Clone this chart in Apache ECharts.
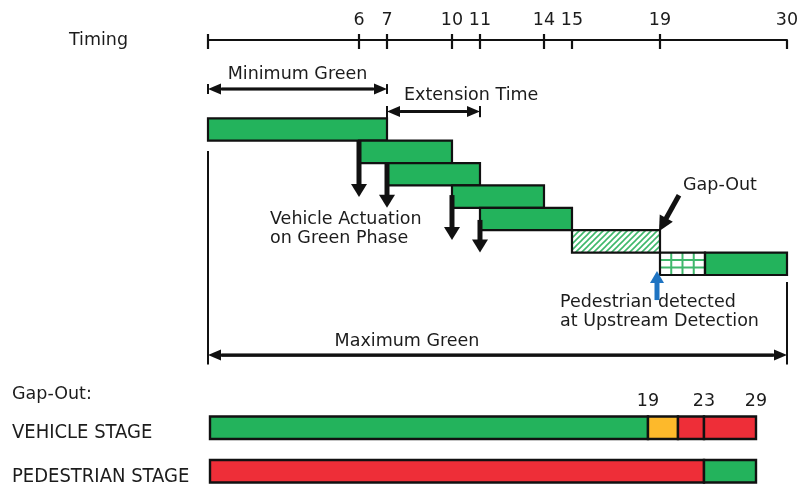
<!DOCTYPE html>
<html><head><meta charset="utf-8">
<script src="https://cdn.jsdelivr.net/npm/echarts@6.0.0/dist/echarts.min.js"></script>
<style>html,body{margin:0;padding:0;background:#fff}#chart{width:802px;height:484px}</style>
</head><body><div id="chart"></div>
<script>
// ================= DATA =================
const timingTicks = [0, 6, 7, 10, 11, 14, 15, 19, 30];
const timingLabels = [6, 7, 10, 11, 14, 15, 19, 30];
const crossingTicks = [0, 6, 7, 10, 11, 14, 19];

const greenStart = [0, 6, 7, 10, 11];
const greenEnd = [7, 10, 11, 14, 15];
const extensionGapStart = [15];   // hatched (no actuation)
const extensionGapEnd = [19];
const pedCallStart = [19];        // checkered
const pedCallEnd = [23];
const pedGreenStart = [23];
const pedGreenEnd = [30];

const actuationTimes = [6, 7, 10, 11];
const minimumGreen = [0, 7];
const extensionTime = [7, 11];
const maximumGreen = [0, 30];
const gapOutTime = 19;
const pedDetectTime = 19;

const stages = ['VEHICLE STAGE', 'PEDESTRIAN STAGE'];
const vehicleStart = [0, 19, 21, 23];
const vehicleEnd = [19, 21, 23, 29];
const vehicleSignal = ['green', 'yellow', 'red', 'red'];
const pedStart = [0, 23];
const pedEnd = [23, 29];
const pedSignal = ['red', 'green'];
const stageTickLabels = [19, 23, 29];

// ================= STYLE / LAYOUT =================
const FONT = '"DejaVu Sans", sans-serif';
const TXT = '#1c1c1c';
const INK = '#111';
const COLORS = { green: '#23b35c', yellow: '#fdb92b', red: '#ee2e38', blue: '#1f74c2', hatch: '#3fb86c' };

// schematic (not-to-scale) axes: compress with invisible breaks
const topBreaks = [
  { start: 1, end: 5, gap: 3.393 },
  { start: 7.5, end: 9.5, gap: 1.321 },
  { start: 11.5, end: 13.5, gap: 1.286 },
  { start: 15.5, end: 18.5, gap: 2.143 },
  { start: 19.5, end: 22.5, gap: 0.607 },
  { start: 23.5, end: 29.5, gap: 1.929 }
];
const bottomBreaks = [
  { start: 19.4, end: 20.6, gap: 0.5015 },
  { start: 21.3, end: 22.7, gap: 0.528 },
  { start: 23.5, end: 28.5, gap: 1.256 }
];

// cascade rows
const cascade = [];
greenStart.forEach((s, i) => cascade.push({ s, e: greenEnd[i], row: i, kind: 'green' }));
cascade.push({ s: extensionGapStart[0], e: extensionGapEnd[0], row: 5, kind: 'hatch' });
cascade.push({ s: pedCallStart[0], e: pedCallEnd[0], row: 6, kind: 'check' });
cascade.push({ s: pedGreenStart[0], e: pedGreenEnd[0], row: 6, kind: 'green' });

const stageSegs = [];
vehicleStart.forEach((s, i) => stageSegs.push({ s, e: vehicleEnd[i], cat: 0, sig: vehicleSignal[i] }));
pedStart.forEach((s, i) => stageSegs.push({ s, e: pedEnd[i], cat: 1, sig: pedSignal[i] }));

function makeHatch() {
  const c = document.createElement('canvas');
  c.width = 6; c.height = 6;
  const g = c.getContext('2d');
  g.strokeStyle = COLORS.hatch; g.lineWidth = 1.6;
  g.beginPath();
  g.moveTo(-1, 7); g.lineTo(7, -1);
  g.moveTo(-1, 1); g.lineTo(1, -1);
  g.moveTo(5, 7); g.lineTo(7, 5);
  g.stroke();
  return c;
}
const hatchImg = makeHatch();

// annotations anchored on data coordinates [time, row]
const annotations = [
  { type: 'dim', t0: minimumGreen[0], t1: minimumGreen[1], r: -1.31, bars: [[-0.22, 0.22], [-0.22, 0.22]] },
  { type: 'text', t: minimumGreen[0], t1: minimumGreen[1], r: -1.98, text: 'Minimum Green', align: 'center' },
  { type: 'dim', t0: extensionTime[0], t1: extensionTime[1], r: -0.30, bars: [[-0.25, 0.3], [-0.25, 0.25]] },
  { type: 'text', t: extensionTime[0], dx: 17, r: -1.04, text: 'Extension Time', align: 'left' },
  { type: 'dim', t0: maximumGreen[0], t1: maximumGreen[1], r: 10.58, bars: [[-9.12, 0.42], [-3.27, 0.42]] },
  { type: 'text', t: 7, dx: 20, r: 9.95, text: 'Maximum Green', align: 'center' },
  { type: 'down', t: actuationTimes[0], r0: 1.0, r1: 3.52 },
  { type: 'down', t: actuationTimes[1], r0: 2.0, r1: 4.0 },
  { type: 'down', t: actuationTimes[2], r0: 3.43, r1: 5.44 },
  { type: 'down', t: actuationTimes[3], r0: 4.54, r1: 6.0 },
  { type: 'text', t: 0, dx: 62, r: 4.51, text: 'Vehicle Actuation', align: 'left' },
  { type: 'text', t: 0, dx: 62, r: 5.36, text: 'on Green Phase', align: 'left' },
  { type: 'gap', t: gapOutTime, r: 5.0 },
  { type: 'text', t: gapOutTime, dx: 23, r: 2.98, text: 'Gap-Out', align: 'left' },
  { type: 'up', t: pedDetectTime, r0: 8.12, r1: 6.82 },
  { type: 'text', t: pedDetectTime, dx: -100, r: 8.24, text: 'Pedestrian detected', align: 'left' },
  { type: 'text', t: pedDetectTime, dx: -100, r: 9.09, text: 'at Upstream Detection', align: 'left' }
];

function arrowShape(x1, y1, x2, y2, w, headLen, headW, color) {
  const dx = x2 - x1, dy = y2 - y1, L = Math.hypot(dx, dy);
  const ux = dx / L, uy = dy / L, nx = -uy, ny = ux;
  const bx = x2 - ux * headLen, by = y2 - uy * headLen;
  return [
    { type: 'line', shape: { x1, y1, x2: bx + ux, y2: by + uy }, style: { stroke: color, lineWidth: w } },
    { type: 'polygon', shape: { points: [[x2, y2], [bx + nx * headW / 2, by + ny * headW / 2], [bx - nx * headW / 2, by - ny * headW / 2]] }, style: { fill: color } }
  ];
}
function textEl(x, y, text, align) {
  return { type: 'text', x, y, style: { text, font: '17.5px ' + FONT, fill: TXT, align, textAlign: align, verticalAlign: 'middle', textVerticalAlign: 'middle' } };
}

function renderCascade(params, api) {
  const c = cascade[params.dataIndex];
  const p0 = api.coord([c.s, c.row]);
  const p1 = api.coord([c.e, c.row + 1]);
  const x = p0[0], y = p0[1], w = p1[0] - p0[0], h = p1[1] - p0[1];
  const border = { type: 'rect', shape: { x, y, width: w, height: h }, style: { fill: 'none', stroke: INK, lineWidth: 2.2 }, z2: 5 };
  if (c.kind === 'green') {
    return { type: 'rect', shape: { x, y, width: w, height: h }, style: { fill: COLORS.green, stroke: INK, lineWidth: 2.2 } };
  }
  if (c.kind === 'hatch') {
    return { type: 'group', children: [
      { type: 'rect', shape: { x, y, width: w, height: h }, style: { fill: { image: hatchImg, repeat: 'repeat' } } },
      border
    ] };
  }
  const kids = [{ type: 'rect', shape: { x, y, width: w, height: h }, style: { fill: '#fff' } }];
  for (let k = 1; k < 4; k++) {
    const xx = x + w * k / 4;
    kids.push({ type: 'line', shape: { x1: xx, y1: y, x2: xx, y2: y + h }, style: { stroke: COLORS.hatch, lineWidth: 2 } });
  }
  for (let k = 1; k < 3; k++) {
    const yy = y + h * k / 3;
    kids.push({ type: 'line', shape: { x1: x, y1: yy, x2: x + w, y2: yy }, style: { stroke: COLORS.hatch, lineWidth: 2 } });
  }
  kids.push(border);
  return { type: 'group', children: kids };
}

function renderAnno(params, api) {
  const a = annotations[params.dataIndex];
  const rowH = api.size([0, 1])[1];
  if (a.type === 'text') {
    let p = api.coord([a.t, a.r]);
    let x = p[0];
    if (a.t1 !== undefined) x = (p[0] + api.coord([a.t1, a.r])[0]) / 2;
    x += (a.dx || 0);
    return textEl(x, p[1], a.text, a.align);
  }
  if (a.type === 'dim') {
    const p0 = api.coord([a.t0, a.r]), p1 = api.coord([a.t1, a.r]);
    const y = p0[1];
    const kids = [];
    kids.push(...arrowShape(p1[0] - 14, y, p0[0], y, 2.6, 13, 11, INK));
    kids.push(...arrowShape(p0[0] + 14, y, p1[0], y, 2.6, 13, 11, INK));
    kids.push({ type: 'line', shape: { x1: p0[0] + 13, y1: y, x2: p1[0] - 13, y2: y }, style: { stroke: INK, lineWidth: 2.6 } });
    [p0[0], p1[0]].forEach((x, i) => {
      const b = a.bars[i];
      kids.push({ type: 'line', shape: { x1: x, y1: y + b[0] * rowH, x2: x, y2: y + b[1] * rowH }, style: { stroke: INK, lineWidth: 2 } });
    });
    return { type: 'group', children: kids };
  }
  if (a.type === 'down') {
    const p0 = api.coord([a.t, a.r0]), p1 = api.coord([a.t, a.r1]);
    return { type: 'group', children: arrowShape(p0[0], p0[1], p1[0], p1[1], 5, 13, 16, INK) };
  }
  if (a.type === 'up') {
    const p0 = api.coord([a.t, a.r0]), p1 = api.coord([a.t, a.r1]);
    return { type: 'group', children: arrowShape(p0[0] - 3, p0[1], p1[0] - 3, p1[1], 5, 12, 14, COLORS.blue) };
  }
  if (a.type === 'gap') {
    const p = api.coord([a.t, a.r]);
    return { type: 'group', children: arrowShape(p[0] + 19, p[1] - 35, p[0] - 1, p[1] + 1, 5, 15, 15, INK) };
  }
  return null;
}

function renderStage(params, api) {
  const s = stageSegs[params.dataIndex];
  const p0 = api.coord([s.s, s.cat]), p1 = api.coord([s.e, s.cat]);
  const h = 22.5;
  return { type: 'rect', shape: { x: p0[0], y: p0[1] - h / 2, width: p1[0] - p0[0], height: h },
    style: { fill: COLORS[s.sig], stroke: INK, lineWidth: 2.4 } };
}

const hiddenBreak = { show: false, itemStyle: { opacity: 0, borderWidth: 0 } };

const chart = echarts.init(document.getElementById('chart'), null, { renderer: 'canvas' });
chart.setOption({
  animation: false,
  backgroundColor: '#fff',
  textStyle: { fontFamily: FONT },
  grid: [
    { left: 208, width: 579, top: 40, height: 324.5, outerBoundsMode: 'none', containLabel: false },
    { left: 210, width: 546, top: 405.9, height: 87.2, outerBoundsMode: 'none', containLabel: false }
  ],
  xAxis: [
    {
      gridIndex: 0, type: 'value', position: 'top', min: 0, max: 30,
      breaks: topBreaks, breakArea: hiddenBreak,
      name: 'Timing', nameLocation: 'start', nameGap: 80,
      nameTextStyle: { fontSize: 17.5, color: TXT, fontFamily: FONT },
      axisLine: { show: true, onZero: false, breakLine: false, lineStyle: { color: INK, width: 2 } },
      axisTick: { show: true, inside: true, length: 9, customValues: timingTicks, lineStyle: { color: INK, width: 2.2 } },
      axisLabel: { show: true, customValues: timingLabels, margin: 11, fontSize: 17.5, color: TXT, fontFamily: FONT },
      splitLine: { show: false }
    },
    {
      gridIndex: 0, type: 'value', position: 'top', min: 0, max: 30,
      breaks: topBreaks, breakArea: hiddenBreak,
      axisLine: { show: false, onZero: false },
      axisTick: { show: true, inside: false, length: 6, customValues: crossingTicks, lineStyle: { color: INK, width: 2.2 } },
      axisLabel: { show: false },
      splitLine: { show: false }
    },
    {
      gridIndex: 1, type: 'value', position: 'top', min: 0, max: 29,
      breaks: bottomBreaks, breakArea: hiddenBreak,
      axisLine: { show: false, onZero: false },
      axisTick: { show: false },
      axisLabel: { show: true, customValues: stageTickLabels, margin: -5, fontSize: 17.5, color: TXT, fontFamily: FONT },
      splitLine: { show: false }
    }
  ],
  yAxis: [
    { gridIndex: 0, type: 'value', min: -3.5, max: 11, inverse: true, show: false },
    {
      gridIndex: 1, type: 'category', data: stages, inverse: true,
      axisLine: { show: false }, axisTick: { show: false },
      axisLabel: { align: 'left', verticalAlign: 'top', lineHeight: 11, margin: 198, fontSize: 20, color: TXT, fontFamily: '"DejaVu Sans Condensed", sans-serif' }
    }
  ],
  graphic: [
    { type: 'text', left: 12, top: 385, style: { text: 'Gap-Out:', font: '17.5px ' + FONT, fill: TXT } }
  ],
  series: [
    { type: 'custom', xAxisIndex: 0, yAxisIndex: 0, z: 2, renderItem: renderCascade,
      data: cascade.map(c => [c.s, c.e, c.row]), encode: { x: [0, 1], y: 2 } },
    { type: 'custom', xAxisIndex: 0, yAxisIndex: 0, z: 3, renderItem: renderAnno,
      data: annotations.map(a => [a.t !== undefined ? a.t : a.t0, a.r !== undefined ? a.r : a.r0]), encode: { x: 0, y: 1 } },
    { type: 'custom', xAxisIndex: 2, yAxisIndex: 1, z: 2, renderItem: renderStage,
      data: stageSegs.map(s => [s.s, s.e, s.cat]), encode: { x: [0, 1], y: 2 } }
  ]
});
</script>
</body></html>
